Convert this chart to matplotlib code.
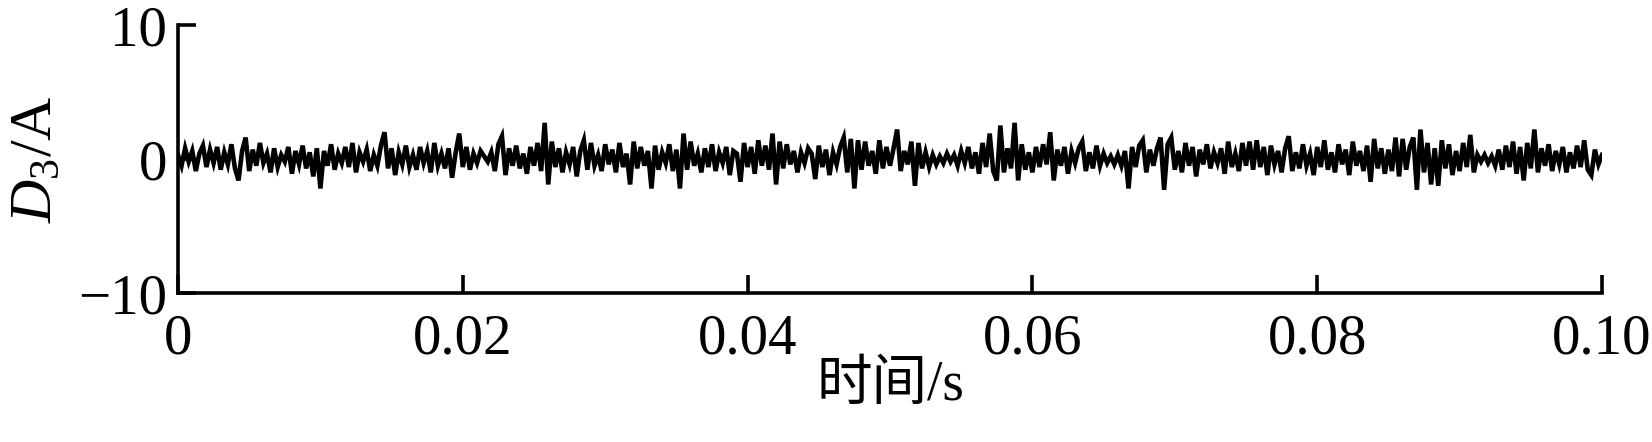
import numpy as np
import matplotlib.pyplot as plt

plt.rcParams['font.family'] = ['Liberation Serif', 'Noto Sans CJK SC']
plt.rcParams['mathtext.fontset'] = 'custom'
plt.rcParams['mathtext.rm'] = 'Liberation Serif'
plt.rcParams['mathtext.it'] = 'Liberation Serif:italic'

# D3 detail signal, one sample every 0.25 ms
d3 = [
    0.3, -0.5, 0.8, -0.2, 0.6, -0.9, 0.4, 1.0, -0.6, 0.7, -0.3, 0.9, -0.8, 0.5, -0.4, 1.1, -0.7, -1.6, 0.6, 1.6,
    -0.9, 0.7, -0.5, 1.2, -0.3, 0.4, -1.0, 0.8, -0.6, 0.3, -0.2, 0.9, -1.1, 0.6, -0.4, 1.0, -0.7, 0.5, -1.3, 0.8,
    -2.2, 0.6, -0.5, 1.1, -0.8, 0.4, -0.3, 0.9, -0.6, 1.2, -1.0, 0.5, -0.2, 0.7, -0.9, 0.3, -0.5, 1.0, 2.0, -0.7,
    0.8, -1.2, 0.5, -0.4, 1.0, -0.6, 0.3, -0.8, 0.9, -0.3, 0.6, -1.0, 1.2, -0.5, 0.4, -0.7, 0.8, -1.4, 0.5, 1.9,
    -0.6, 0.9, -0.8, 0.4, -0.3, 0.6, 0.2, -0.2, 0.5, -0.9, 1.1, 1.7, -1.2, 0.8, -0.5, 1.0, -0.7, 0.4, -1.1, 0.9,
    -0.5, 1.2, -0.9, 2.7, -1.9, 1.3, -0.6, 0.8, -1.0, 0.5, -0.4, 0.9, -1.3, 0.6, 1.4, -0.8, 1.2, -0.5, 0.3, -0.9,
    1.1, -0.4, 0.7, -1.0, 1.2, -0.6, 0.4, -1.9, 1.3, -0.7, 0.9, -0.5, 0.6, -2.2, 1.0, -0.8, 0.5, -0.3, 1.1, -0.9,
    0.7, -2.2, 1.9, -0.8, 1.3, -0.5, 0.4, -1.0, 0.8, -0.6, 1.1, -0.9, 0.5, -0.3, 0.9, -1.2, 0.6, 0.4, -1.7, 1.2,
    -0.6, 0.9, -1.1, 1.4, -0.5, 1.0, -0.8, 1.9, -1.9, 1.3, -0.7, 1.1, -0.4, 0.6, -1.0, 0.5, -0.3, 0.8, 0.4, -1.5,
    1.0, -0.6, 0.7, -1.2, 0.5, -0.4, 0.9, 1.6, -1.0, 1.5, -2.2, 1.4, -0.8, 1.3, -0.5, 0.6, -1.1, 1.4, -0.7, 0.9,
    -0.5, 0.8, 2.2, -0.9, 0.6, -0.4, 1.3, -2.0, 1.2, -0.7, 0.5, -0.6, 0.3, -0.4, 0.2, -0.3, 0.4, -0.2, 0.3, -0.5,
    0.6, -0.3, 0.9, -0.7, 0.5, -1.1, 1.2, -0.6, 1.9, -0.9, -1.6, 2.5, -1.0, 0.8, -0.7, 2.7, -1.6, 1.1, -0.8, 0.5,
    -1.0, 0.9, -0.6, 1.1, -0.4, 2.0, -1.6, 0.7, -0.5, 0.9, -1.1, 0.6, -0.3, 0.8, 1.3, -0.9, 0.5, -0.7, 1.0, -0.5,
    0.4, -0.3, 0.2, -0.4, 0.3, -0.5, 0.6, -2.2, 0.9, -0.6, 1.0, 1.4, -1.0, 0.7, -0.5, 0.8, 1.6, -2.3, 1.1, 1.6,
    -0.8, 0.6, -1.0, 1.2, -0.5, 0.9, -1.3, 0.7, -0.4, 1.1, -0.7, 0.5, -0.3, 0.8, -1.1, 1.3, -0.6, 0.4, -0.9, 1.2,
    -0.5, 1.3, -0.8, 1.4, -0.6, 0.9, -1.2, 1.0, -0.4, 0.6, -1.0, 0.8, 1.7, -0.9, 0.5, -0.7, 1.1, -0.5, 0.4, -1.2,
    0.9, -0.6, 1.4, -0.8, 0.5, -1.0, 1.1, -0.4, 0.7, -1.2, 1.3, -0.5, 0.6, -0.9, 1.0, -1.7, 1.5, -0.7, 0.8, -1.1,
    0.7, -0.9, 1.6, -1.3, 1.5, -0.8, 0.9, 1.6, -2.3, 2.2, -1.0, 1.2, -1.9, 0.8, -2.0, 1.4, -0.7, 1.1, -1.2, 0.6,
    -0.9, 1.2, -0.6, 1.8, -1.0, 0.3, -0.2, 0.3, -0.3, 0.2, -0.5, 0.7, -0.8, 1.0, -0.6, 1.3, -1.1, 0.9, -1.6, 1.2,
    -0.7, 2.2, -1.0, 0.8, -0.5, 1.1, -0.9, 0.6, -0.4, 0.9, -1.0, 0.5, -0.7, 1.0, -0.6, 1.4, -0.8, -1.2, 0.7, -0.4,
    0.3,
]
dt = 0.00025
t = np.arange(len(d3)) * dt

xticks = [0, 0.02, 0.04, 0.06, 0.08, 0.10]
xticklabels = ['0', '0.02', '0.04', '0.06', '0.08', '0.10']
yticks = [-10, 0, 10]
yticklabels = ['\u221210', '0', '10']

fig = plt.figure(figsize=(16.52, 4.42), dpi=100)
ax = fig.add_axes([178 / 1652, 1 - 293 / 442, 1424 / 1652, 268 / 442])

ax.plot(t, d3, color='black', lw=3.3, solid_joinstyle='miter')
ax.set_xlim(0, 0.1)
ax.set_ylim(-10, 10)

ax.spines['top'].set_visible(False)
ax.spines['right'].set_visible(False)
for s in ('left', 'bottom'):
    ax.spines[s].set_linewidth(2.6)

ax.set_xticks(xticks)
ax.set_xticklabels(xticklabels)
ax.set_yticks(yticks)
ax.set_yticklabels(yticklabels)
ax.tick_params(direction='in', length=13, width=2.6, labelsize=41)
ax.tick_params(axis='x', pad=15)
ax.tick_params(axis='y', pad=8)

ax.set_xlabel('时间/s', fontsize=40, labelpad=-4)
ax.set_ylabel(r'$D_3$/A', fontsize=43)
ax.yaxis.set_label_coords(-0.08, 0.5)

fig.savefig('out.png', dpi=100)
